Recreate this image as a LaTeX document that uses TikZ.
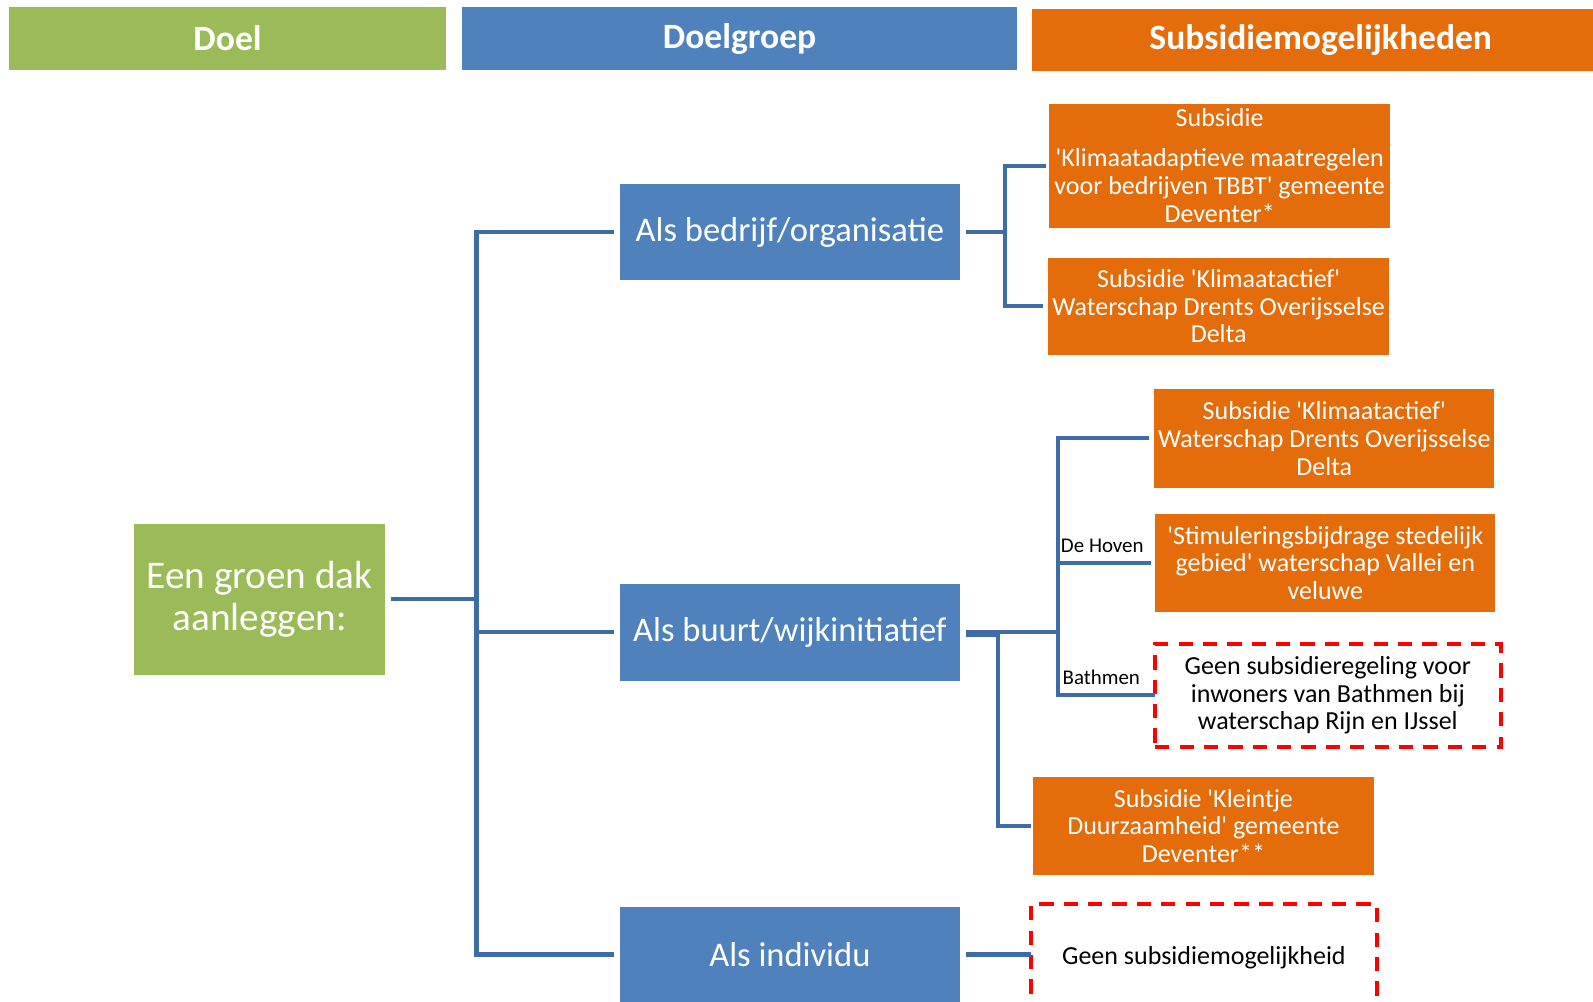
\documentclass[tikz,border=0pt]{standalone}
\usepackage{fontspec}
\setmainfont{Carlito}
\definecolor{cgreen}{HTML}{9BBB59}
\definecolor{cblue}{HTML}{4F81BD}
\definecolor{corange}{HTML}{E46C0A}
\definecolor{cline}{HTML}{3E6CA6}
\definecolor{cred}{HTML}{FF0000}
\newcommand{\sq}{\textquotesingle}
\begin{document}
\begin{tikzpicture}[x=0.5pt,y=-0.5pt,
  box/.style={rectangle,inner sep=0pt,outer sep=0pt,align=center,text=white},
  head/.style={box,minimum height=31pt,font=\fontsize{17.5}{21}\selectfont\bfseries},
  goalbox/.style={box,fill=cgreen,minimum width=123.5pt,minimum height=74pt,font=\fontsize{19.3}{20.5}\selectfont},
  groupbox/.style={box,fill=cblue,minimum width=167.5pt,minimum height=47.5pt,font=\fontsize{17}{20}\selectfont},
  subbox/.style={box,fill=corange,minimum width=167.5pt,font=\fontsize{12.8}{13.6}\selectfont},
  nobox/.style={box,text=black,fill=white,draw=cred,line width=2pt,dash pattern=on 7pt off 5pt,minimum width=170pt,font=\fontsize{12.8}{13.6}\selectfont},
  conn/.style={draw=cline,line width=2pt},
  lbl/.style={inner sep=0pt,font=\fontsize{10.3}{12}\selectfont}]
\clip (0,0) rectangle (1568,986);
\useasboundingbox (0,0) rectangle (1568,986);
\fill[white] (0,0) rectangle (1568,986);
% headers
\node[head,fill=cgreen,minimum width=215pt] (h1) at (224,38) {Doel};
\node[head,fill=cblue,minimum width=273pt] (h2) at (728,38) {\raisebox{0.5pt}{Doelgroep}};
\node[head,fill=corange,minimum width=276pt,minimum height=30.5pt] (h3) at (1292,39.5) {\hspace*{8pt}\raisebox{-1.5pt}{Subsidiemogelijkheden}};
% goal
\node[goalbox] (goal) at (255.5,590) {Een groen dak\\aanleggen:};
% target groups
\node[groupbox] (b1) at (777.5,228.5) {Als bedrijf/organisatie};
\node[groupbox] (b2) at (777.5,622.5) {Als buurt/wijkinitiatief};
\node[groupbox,minimum height=46.5pt] (b3) at (777.5,939.5) {Als individu};
% subsidies
\node[subbox,minimum height=61pt] (o1) at (1200.5,163) {Subsidie\\[6pt]\sq Klimaatadaptieve maatregelen\\voor bedrijven TBBT\sq{} gemeente\\Deventer*};
\node[subbox,minimum height=47.5pt] (o2) at (1199.5,301.5) {Subsidie \sq Klimaatactief\sq\\Waterschap Drents Overijsselse\\Delta};
\node[subbox,minimum height=48.5pt] (o3) at (1303.5,431.5) {\raisebox{0.5pt}{Subsidie \sq Klimaatactief\sq}\\Waterschap Drents Overijsselse\\Delta};
\node[subbox,minimum height=48pt] (o4) at (1304.5,554) {\sq Stimuleringsbijdrage stedelijk\\gebied\sq{} waterschap Vallei en\\veluwe};
\node[nobox,minimum height=50.5pt] (d1) at (1307,684.5) {Geen subsidieregeling voor\\inwoners van Bathmen bij\\waterschap Rijn en IJssel};
\node[subbox,minimum height=48pt] (o5) at (1184.5,813) {Subsidie \sq Kleintje\\Duurzaamheid\sq{} gemeente\\Deventer**};
\node[nobox,minimum height=55pt] (d2) at (1185,945) {\raisebox{4.5pt}{Geen subsidiemogelijkheid}};
% connectors
\coordinate (tr) at (469,0);
\coordinate (br1) at (989,0);
\coordinate (br2) at (1041,0);
\coordinate (br3) at (982,0);
\draw[conn] ([xshift=3pt]goal.east) -- (goal.east -| tr);
\draw[conn] ([xshift=-3pt]b1.west) -| (tr |- b3.west) -- ([xshift=-3pt]b3.west);
\draw[conn] (tr |- b2.west) -- ([xshift=-3pt]b2.west);
\draw[conn] ([xshift=3pt]b1.east) -- (b1.east -| br1);
\draw[conn] ([xshift=-1.5pt]o1.west) -| (br1 |- o2.west) -- ([xshift=-2.5pt]o2.west);
\draw[conn] ([xshift=3pt]b2.east) -- (b2.east -| br2);
\draw[conn] ([xshift=-2.5pt]o3.west) -| (br2 |- d1.west) -- (d1.west);
\draw[conn] (br2 |- o4.west) -- ([xshift=-2pt]o4.west);
\draw[conn] ([xshift=3pt,yshift=-1.25pt]b2.east) -| (br3 |- o5.west) -- ([xshift=-1pt]o5.west);
\draw[conn] ([xshift=3pt]b3.east) -- (b3.east -| d2.west);
% labels
\node[lbl] (lh) at (1085,537) {De Hoven};
\node[lbl] (lb) at (1084,667) {Bathmen};
\end{tikzpicture}
\end{document}
